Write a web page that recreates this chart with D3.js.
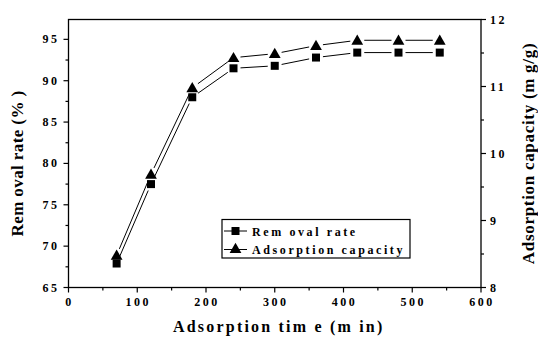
<!DOCTYPE html>
<html>
<head>
<meta charset="utf-8">
<script src="https://cdn.jsdelivr.net/npm/d3@7"></script>
<style>
  html, body { margin: 0; padding: 0; background: #fff; }
  svg { display: block; }
  text { font-family: "Liberation Serif", "Times New Roman", serif; font-weight: bold; fill: #000; }
</style>
</head>
<body>
<svg id="chart" width="538" height="341"></svg>
<script>
// Adsorption time (min)
const times = [70, 120, 180, 240, 300, 360, 420, 480, 540];
// Removal rate (%) – left axis
const removalRate = [67.9, 77.5, 88.0, 91.5, 91.8, 92.8, 93.4, 93.4, 93.4];
// Adsorption capacity (mg/g) – right axis
const capacity = [8.48, 9.69, 10.98, 11.43, 11.49, 11.61, 11.69, 11.69, 11.69];

const xTicks = [0, 100, 200, 300, 400, 500, 600];
const leftTicks = [65, 70, 75, 80, 85, 90, 95];
const rightTicks = [8, 9, 10, 11, 12];

const svg = d3.select("#chart");
const L = 68.5, R = 481, T = 19.5, B = 287.5;

const x = d3.scaleLinear().domain([0, 600]).range([L, R]);
const yL = d3.scaleLinear().domain([65, 97.4]).range([B, T]);
const yR = d3.scaleLinear().domain([8, 12]).range([B, T]);

// frame
svg.append("rect").attr("x", L).attr("y", T).attr("width", R - L).attr("height", B - T)
  .attr("fill", "none").attr("stroke", "#000").attr("stroke-width", 1.3);

const tickFont = "12px";
const tickSpacing = "2.5px";

// bottom axis
const xMinor = d3.range(50, 600, 100);
const gx = svg.append("g");
gx.selectAll("line.maj").data(xTicks).join("line")
  .attr("x1", d => x(d)).attr("x2", d => x(d)).attr("y1", B).attr("y2", B + 5)
  .attr("stroke", "#000").attr("stroke-width", 1.2);
gx.selectAll("line.min").data(xMinor).join("line")
  .attr("x1", d => x(d)).attr("x2", d => x(d)).attr("y1", B).attr("y2", B + 3)
  .attr("stroke", "#000").attr("stroke-width", 1.2);
gx.selectAll("text").data(xTicks).join("text")
  .attr("x", d => x(d) + 1).attr("y", B + 18)
  .attr("text-anchor", "middle").style("font-size", tickFont).style("letter-spacing", tickSpacing)
  .text(d => d);

// left axis
const leftMinor = d3.range(67.5, 97, 5);
const gl = svg.append("g");
gl.selectAll("line.maj").data(leftTicks).join("line")
  .attr("x1", L - 5).attr("x2", L).attr("y1", d => yL(d)).attr("y2", d => yL(d))
  .attr("stroke", "#000").attr("stroke-width", 1.2);
gl.selectAll("line.min").data(leftMinor).join("line")
  .attr("x1", L - 3).attr("x2", L).attr("y1", d => yL(d)).attr("y2", d => yL(d))
  .attr("stroke", "#000").attr("stroke-width", 1.2);
gl.selectAll("text").data(leftTicks).join("text")
  .attr("x", L - 9).attr("y", d => yL(d) + 4)
  .attr("text-anchor", "end").style("font-size", tickFont).style("letter-spacing", tickSpacing)
  .text(d => d);

// right axis
const rightMinor = [8.5, 9.5, 10.5, 11.5];
const gr = svg.append("g");
gr.selectAll("line.maj").data(rightTicks).join("line")
  .attr("x1", R).attr("x2", R + 5).attr("y1", d => yR(d)).attr("y2", d => yR(d))
  .attr("stroke", "#000").attr("stroke-width", 1.2);
gr.selectAll("line.min").data(rightMinor).join("line")
  .attr("x1", R).attr("x2", R + 3).attr("y1", d => yR(d)).attr("y2", d => yR(d))
  .attr("stroke", "#000").attr("stroke-width", 1.2);
gr.selectAll("text").data(rightTicks).join("text")
  .attr("x", R + 9).attr("y", d => yR(d) + 4)
  .attr("text-anchor", "start").style("font-size", tickFont).style("letter-spacing", tickSpacing)
  .text(d => d);

// axis titles
svg.append("text").attr("x", (L + R) / 2 + 4).attr("y", 332)
  .attr("text-anchor", "middle").style("font-size", "16px").style("letter-spacing", "2.2px")
  .text("Adsorption tim e (m in)");
svg.append("text").attr("transform", `translate(23,${(T + B) / 2 + 10}) rotate(-90)`)
  .attr("text-anchor", "middle").style("font-size", "17px").style("letter-spacing", "0.4px")
  .text("Rem oval rate (% )");
svg.append("text").attr("transform", `translate(534,${(T + B) / 2 + 0}) rotate(-90)`)
  .attr("text-anchor", "middle").style("font-size", "17px").style("letter-spacing", "0.7px")
  .text("Adsorption capacity (m g/g)");

// connecting lines with a small gap around each symbol
function gappedLines(g, pts, gap) {
  for (let i = 0; i < pts.length - 1; i++) {
    const [x1, y1] = pts[i], [x2, y2] = pts[i + 1];
    const dx = x2 - x1, dy = y2 - y1, len = Math.hypot(dx, dy);
    const ux = dx / len, uy = dy / len;
    g.append("line")
      .attr("x1", x1 + ux * gap).attr("y1", y1 + uy * gap)
      .attr("x2", x2 - ux * gap).attr("y2", y2 - uy * gap)
      .attr("stroke", "#000").attr("stroke-width", 1);
  }
}

const sq = d3.symbol().type(d3.symbolSquare).size(64);
const tri = d3.symbol().type(d3.symbolTriangle).size(60);

const ptsR = times.map((t, i) => [x(t), yL(removalRate[i])]);
const ptsC = times.map((t, i) => [x(t), yR(capacity[i])]);

const gs = svg.append("g");
gappedLines(gs, ptsR, 7);
gappedLines(gs, ptsC, 7);
gs.selectAll("path.sq").data(ptsR).join("path").attr("class", "sq")
  .attr("d", sq).attr("transform", d => `translate(${d[0]},${d[1]})`).attr("fill", "#000");
gs.selectAll("path.tri").data(ptsC).join("path").attr("class", "tri")
  .attr("d", tri).attr("transform", d => `translate(${d[0]},${d[1] + 1})`).attr("fill", "#000");

// legend
const lg = svg.append("g");
lg.append("rect").attr("x", 222).attr("y", 219.5).attr("width", 188).attr("height", 38.5)
  .attr("fill", "#fff").attr("stroke", "#000").attr("stroke-width", 1.2);
const legendItems = [
  { label: "Rem oval rate", sym: sq, y: 231 },
  { label: "Adsorption capacity", sym: tri, y: 249.5 }
];
legendItems.forEach(it => {
  lg.append("line").attr("x1", 224).attr("x2", 247).attr("y1", it.y).attr("y2", it.y)
    .attr("stroke", "#000").attr("stroke-width", 1);
  lg.append("path").attr("d", it.sym).attr("transform", `translate(235.5,${it.y})`).attr("fill", "#000");
  lg.append("text").attr("x", 252).attr("y", it.y + 4.5)
    .style("font-size", "12px").style("letter-spacing", "2.6px").text(it.label);
});
</script>
</body>
</html>
